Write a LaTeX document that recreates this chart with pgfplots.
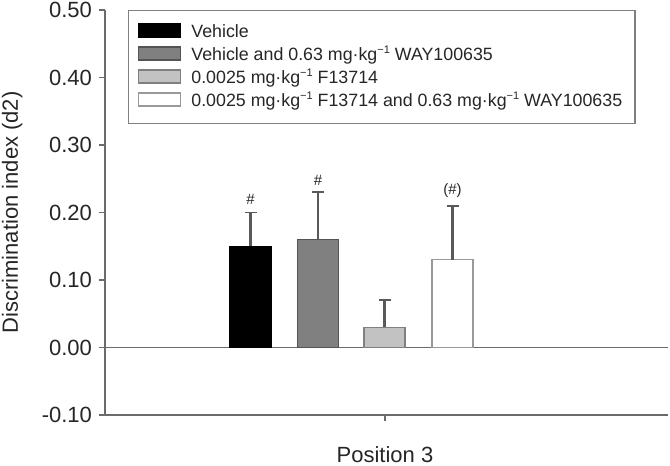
\documentclass[border=0pt]{standalone}
\usepackage{fontspec}
\setmainfont{Liberation Sans}
\usepackage{pgfplots}
\pgfplotsset{compat=1.18}
\definecolor{axisgray}{gray}{0.42}
\definecolor{errgray}{gray}{0.35}
\definecolor{legendgray}{gray}{0.5}
\definecolor{barA}{gray}{0}
\definecolor{barB}{gray}{0.5}
\definecolor{barBd}{gray}{0.33}
\definecolor{barC}{gray}{0.76}
\definecolor{barCd}{gray}{0.5}
\definecolor{barDd}{gray}{0.6}
\newcommand\supm{\raisebox{0.75ex}{\fontsize{5.5}{6}\selectfont −1}}
\pgfplotsset{barlegend/.style={legend image code/.code={\draw[##1] (0pt,-2.2pt) rectangle (21pt,4.3pt); \path[draw=none,fill=none] (0pt,1pt) rectangle (24.5pt,1pt);}}}
\begin{document}
\begin{tikzpicture}
\useasboundingbox (-52.5pt,-25.5pt) rectangle (282.5pt,207.5pt);
\begin{axis}[
  scale only axis, width=281.5pt, height=202.5pt,
  xmin=105, xmax=668, ymin=-0.1, ymax=0.5,
  axis x line*=bottom, axis y line*=left,
  axis line style={-, draw=axisgray, line width=0.9pt},
  ytick={-0.1,0,0.1,0.2,0.3,0.4,0.5},
  yticklabel style={/pgf/number format/.cd, fixed, fixed zerofill, precision=2, assume math mode=true},
  xtick={385}, xticklabels={Position 3},
  xticklabel style={yshift=-9pt},
  tick align=outside, major tick length=3pt,
  tick style={draw=axisgray, line width=0.8pt},
  tick label style={font=\fontsize{11}{13}\selectfont, text=black!85},
  label style={font=\fontsize{11}{13}\selectfont, text=black!85},
  ylabel={Discrimination index (d2)},
  ylabel style={at={(axis description cs:-0.165,0.5)}, anchor=center},
  extra y ticks={0}, extra y tick labels={},
  extra y tick style={grid=major, major grid style={draw=axisgray, line width=0.9pt}, major tick length=0pt},
  legend style={at={(axis cs:128,0.5)}, anchor=north west, draw=legendgray, line width=0.7pt,
    font=\fontsize{8.9}{10.7}\selectfont, text=black!85, cells={anchor=west},
    inner xsep=4.5pt, inner ysep=5.5pt, row sep=0.5pt,
    nodes={inner ysep=1.5pt, text height=6.5pt, text depth=1.5pt}},
  ybar, bar width=20.5pt,
  error bars/y dir=plus, error bars/y explicit,
  error bars/error mark options={rotate=90, mark size=3pt, line width=0.8pt, draw=errgray},
  error bars/error bar style={line width=1.1pt, draw=errgray},
]
\addplot[bar shift=0pt, fill=barA, draw=barA, line width=0.7pt, barlegend]
  coordinates {(250.5,0.15) +- (0,0.05)};
\addlegendentry{Vehicle}
\addplot[bar shift=0pt, fill=barB, draw=barBd, line width=0.7pt, barlegend]
  coordinates {(318,0.16) +- (0,0.07)};
\addlegendentry{Vehicle and 0.63 mg·kg\supm{} WAY100635}
\addplot[bar shift=0pt, fill=barC, draw=barCd, line width=0.7pt, barlegend]
  coordinates {(384.5,0.03) +- (0,0.04)};
\addlegendentry{0.0025 mg·kg\supm{} F13714}
\addplot[bar shift=0pt, fill=white, draw=barDd, line width=0.7pt, barlegend]
  coordinates {(452.5,0.13) +- (0,0.08)};
\addlegendentry{0.0025 mg·kg\supm{} F13714 and 0.63 mg·kg\supm{} WAY100635}
\node[font=\fontsize{7.5}{8}\selectfont, text=black!85] at (axis cs:250.5,0.22) {\#};
\node[font=\fontsize{7.5}{8}\selectfont, text=black!85] at (axis cs:318,0.248) {\#};
\node[font=\fontsize{7.5}{8}\selectfont, text=black!85] at (axis cs:452.5,0.233) {(\#)};
\end{axis}
\end{tikzpicture}
\end{document}
